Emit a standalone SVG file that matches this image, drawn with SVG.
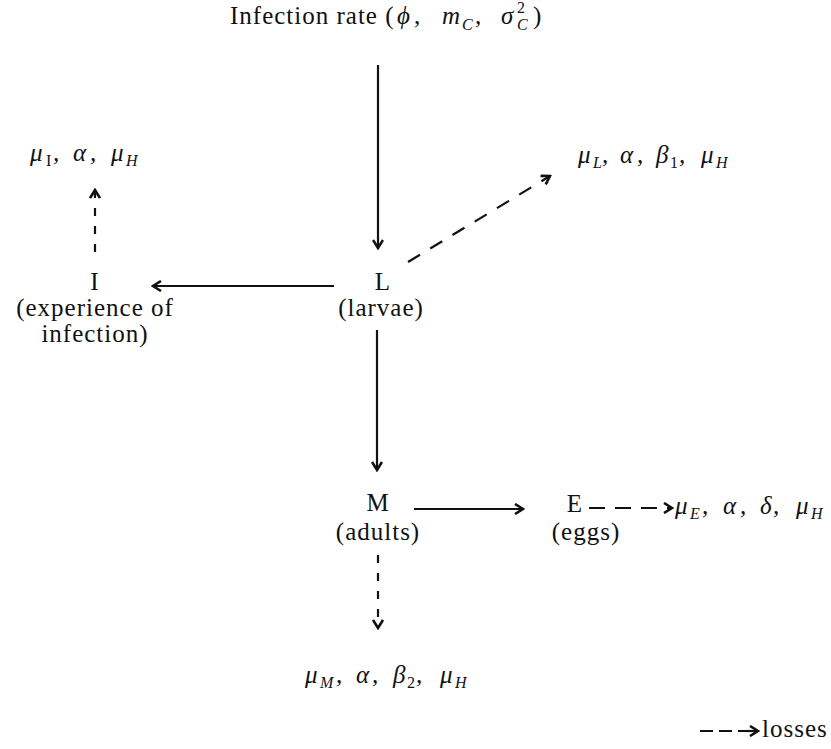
<svg xmlns="http://www.w3.org/2000/svg" width="831" height="749" viewBox="0 0 831 749">
<style>
text{font-family:"Liberation Serif","Times New Roman",serif;font-size:25px;fill:#111;letter-spacing:1px}
.m{font-style:italic;letter-spacing:0}
.s{font-size:16px}
.u{font-style:normal}
.c{text-anchor:middle}
.ln{stroke:#111;stroke-width:2.2;fill:none}
.d{stroke-dasharray:14,12}
.dv{stroke-dasharray:8,10}
</style>
<defs>
<marker id="ah" viewBox="0 0 12 12" refX="10" refY="6" markerWidth="12" markerHeight="12" markerUnits="userSpaceOnUse" orient="auto">
<path d="M2,1 L10,6 L2,11" fill="none" stroke="#111" stroke-width="2.6"/>
</marker>
</defs>
<rect width="831" height="749" fill="#fff"/>
<g id="rate">
<text x="230" y="24" letter-spacing="1.8">Infection rate (</text>
<text y="24" class="m"><tspan x="397">ϕ</tspan><tspan x="414" class="u">,</tspan><tspan x="442">m</tspan><tspan x="462" dy="6" class="s">C</tspan><tspan x="475" dy="-6">,</tspan><tspan x="501">σ</tspan><tspan x="517" dy="-11" class="s u">2</tspan></text>
<text y="30" x="517" class="m s">C</text>
<text y="24" x="533">)</text>
</g>
<g id="L">
<text x="383" y="290" class="c">L</text>
<text x="381" y="316" class="c">(larvae)</text>
</g>
<g id="I">
<text x="95" y="290" class="c">I</text>
<text x="95" y="316" class="c">(experience of</text>
<text x="95" y="342" class="c">infection)</text>
</g>
<g id="M">
<text x="378" y="511" class="c">M</text>
<text x="378" y="540" class="c">(adults)</text>
</g>
<g id="E">
<text x="575" y="512" class="c">E</text>
<text x="586" y="540" class="c">(eggs)</text>
</g>
<g id="lossI">
<text y="161" class="m"><tspan x="30">μ</tspan><tspan x="46" dy="5" class="s u">I</tspan><tspan x="53" dy="-5">,</tspan><tspan x="73">α</tspan><tspan x="90">,</tspan><tspan x="111">μ</tspan><tspan x="126" dy="5" class="s">H</tspan></text>
</g>
<g id="lossL">
<text y="163" class="m"><tspan x="578">μ</tspan><tspan x="593" dy="5" class="s">L</tspan><tspan x="602" dy="-5">,</tspan><tspan x="620">α</tspan><tspan x="637">,</tspan><tspan x="656">β</tspan><tspan x="670" dy="5" class="s u">1</tspan><tspan x="679" dy="-5">,</tspan><tspan x="701">μ</tspan><tspan x="716" dy="5" class="s">H</tspan></text>
</g>
<g id="lossE">
<text y="514" class="m"><tspan x="675">μ</tspan><tspan x="690" dy="5" class="s">E</tspan><tspan x="702" dy="-5">,</tspan><tspan x="723">α</tspan><tspan x="740">,</tspan><tspan x="760">δ</tspan><tspan x="773">,</tspan><tspan x="796">μ</tspan><tspan x="811" dy="5" class="s">H</tspan></text>
</g>
<g id="lossM">
<text y="683" class="m"><tspan x="305">μ</tspan><tspan x="320" dy="5" class="s">M</tspan><tspan x="336" dy="-5">,</tspan><tspan x="356">α</tspan><tspan x="372">,</tspan><tspan x="393">β</tspan><tspan x="407" dy="5" class="s u">2</tspan><tspan x="416" dy="-5">,</tspan><tspan x="440">μ</tspan><tspan x="455" dy="5" class="s">H</tspan></text>
</g>
<g id="legend">
<line x1="700" y1="731" x2="746" y2="731" class="ln" stroke-dasharray="13,6"/>
<line x1="746" y1="731" x2="758" y2="731" class="ln" marker-end="url(#ah)"/>
<text x="762" y="737" font-size="22" letter-spacing="0">losses</text>
</g>
<g id="connectors">
<line x1="378" y1="65" x2="378" y2="248" class="ln" marker-end="url(#ah)"/>
<line x1="334" y1="286" x2="153" y2="286" class="ln" marker-end="url(#ah)"/>
<line x1="95" y1="252" x2="95" y2="190" class="ln dv" marker-end="url(#ah)"/>
<line x1="408" y1="262" x2="550" y2="176" class="ln d" marker-end="url(#ah)"/>
<line x1="377" y1="330" x2="377" y2="470" class="ln" marker-end="url(#ah)"/>
<line x1="414" y1="509" x2="523" y2="509" class="ln" marker-end="url(#ah)"/>
<line x1="589" y1="508" x2="672" y2="508" class="ln" stroke-dasharray="16,10" marker-end="url(#ah)"/>
<line x1="378" y1="555" x2="378" y2="628" class="ln dv" marker-end="url(#ah)"/>
</g>
</svg>
